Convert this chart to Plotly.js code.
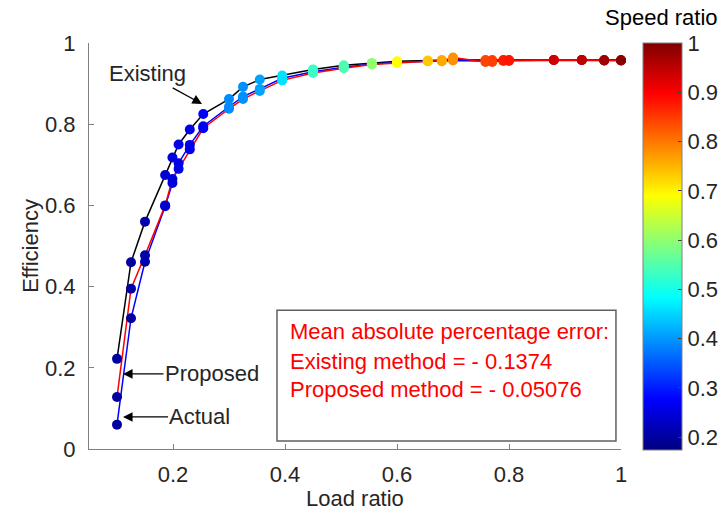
<!DOCTYPE html>
<html>
<head>
<meta charset="utf-8">
<script src="https://cdn.plot.ly/plotly-3.0.1.min.js"></script>
<style>html,body{margin:0;padding:0;background:#fff;}#chart{width:728px;height:517px;}</style>
</head>
<body>
<div id="chart"></div>
<script>
// Load ratio (x) for each measured point
const loadRatio = [0.1, 0.125, 0.15, 0.186, 0.199, 0.21, 0.23, 0.254, 0.3, 0.325, 0.355, 0.395, 0.45, 0.505, 0.555, 0.6, 0.655, 0.68, 0.7, 0.758, 0.77, 0.79, 0.8, 0.88, 0.93, 0.97, 1.0];
// Speed ratio (colour) for each point
const speedRatio = [0.2, 0.2, 0.21, 0.24, 0.25, 0.255, 0.26, 0.27, 0.39, 0.395, 0.41, 0.46, 0.53, 0.545, 0.6, 0.69, 0.735, 0.76, 0.78, 0.84, 0.845, 0.875, 0.88, 0.935, 0.95, 0.975, 0.99];
// Efficiency values
const effExisting = [0.222, 0.46, 0.56, 0.675, 0.718, 0.75, 0.787, 0.825, 0.862, 0.892, 0.91, 0.92, 0.935, 0.945, 0.951, 0.955, 0.957, 0.958, 0.959, 0.958, 0.958, 0.958, 0.958, 0.958, 0.958, 0.958, 0.958];
const effProposed = [0.128, 0.395, 0.477, 0.6, 0.665, 0.69, 0.738, 0.79, 0.838, 0.862, 0.882, 0.908, 0.926, 0.938, 0.947, 0.951, 0.955, 0.956, 0.964, 0.953, 0.953, 0.956, 0.956, 0.958, 0.958, 0.957, 0.957];
const effActual = [0.06, 0.322, 0.461, 0.598, 0.655, 0.704, 0.749, 0.795, 0.843, 0.868, 0.887, 0.913, 0.929, 0.94, 0.948, 0.952, 0.955, 0.955, 0.957, 0.955, 0.955, 0.957, 0.957, 0.958, 0.958, 0.957, 0.957];

const xTicks = [0.2, 0.4, 0.6, 0.8, 1];
const xTickText = ["0.2", "0.4", "0.6", "0.8", "1"];
const yTicks = [0, 0.2, 0.4, 0.6, 0.8, 1];
const yTickText = ["0", "0.2", "0.4", "0.6", "0.8", "1"];
const cTicks = [0.2, 0.3, 0.4, 0.5, 0.6, 0.7, 0.8, 0.9, 1];
const cTickText = ["0.2", "0.3", "0.4", "0.5", "0.6", "0.7", "0.8", "0.9", "1"];

const jet = [
  [0, 'rgb(0,0,128)'], [0.125, 'rgb(0,0,255)'], [0.375, 'rgb(0,255,255)'],
  [0.625, 'rgb(255,255,0)'], [0.875, 'rgb(255,0,0)'], [1, 'rgb(128,0,0)']
];
const FONT = '"Liberation Sans", Arial, Helvetica, sans-serif';
const TXT = '#262626';
const FS = 22;
const cmin = 0.174, cmax = 1;

function lineTrace(y, color) {
  return {x: loadRatio, y: y, mode: 'lines', type: 'scatter', cliponaxis: false,
    line: {color: color, width: 1.5}, hoverinfo: 'skip', showlegend: false};
}
function markerTrace(y, scale) {
  return {x: loadRatio, y: y, mode: 'markers', type: 'scatter', showlegend: false, cliponaxis: false,
    marker: {size: 10, color: speedRatio, colorscale: jet, cmin: cmin, cmax: cmax,
      line: {width: 0}, showscale: scale,
      colorbar: scale ? {
        x: 1.0414, xanchor: 'left', xpad: 0, ypad: 0,
        y: 0.4988, yanchor: 'middle', len: 407, lenmode: 'pixels',
        thickness: 39, thicknessmode: 'pixels',
        outlinewidth: 1, outlinecolor: '#808080',
        tickvals: cTicks, ticktext: cTickText, ticks: 'inside', ticklen: 4,
        tickcolor: '#404040',
        tickfont: {family: FONT, size: FS, color: TXT}
      } : undefined}};
}

const data = [
  lineTrace(effExisting, '#000000'),
  lineTrace(effActual, '#0000ff'),
  lineTrace(effProposed, '#ff0000'),
  markerTrace(effExisting, true),
  markerTrace(effActual, false),
  markerTrace(effProposed, false)
];

const boxLines = ["Mean absolute percentage error:", "Existing method = - 0.1374", "Proposed method = - 0.05076"];
const boxY = [0.289, 0.215, 0.147];

const annotations = [
  {x: 0.2518, y: 0.85, xref: 'x', yref: 'y', text: 'Existing', showarrow: true,
   ax: -55, ay: -30, arrowhead: 2, arrowsize: 1.6, arrowwidth: 1.2, arrowcolor: '#000',
   font: {family: FONT, size: FS, color: TXT}},
  {x: 0.1107, y: 0.185, xref: 'x', yref: 'y', text: 'Proposed', showarrow: true,
   ax: 89, ay: 0, arrowhead: 2, arrowsize: 1.6, arrowwidth: 1.2, arrowcolor: '#000',
   font: {family: FONT, size: FS, color: TXT}},
  {x: 0.1107, y: 0.079, xref: 'x', yref: 'y', text: 'Actual', showarrow: true,
   ax: 77, ay: 0, arrowhead: 2, arrowsize: 1.6, arrowwidth: 1.2, arrowcolor: '#000',
   font: {family: FONT, size: FS, color: TXT}},
  {x: 1.077, y: 1.062, xref: 'paper', yref: 'paper', text: 'Speed ratio', showarrow: false,
   xanchor: 'center', yanchor: 'middle', font: {family: FONT, size: FS, color: '#000'}},
  {x: 0.5, y: -0.122, xref: 'paper', yref: 'paper', text: 'Load ratio', showarrow: false,
   xanchor: 'center', yanchor: 'middle', font: {family: FONT, size: FS, color: TXT}}
];
boxLines.forEach((t, i) => annotations.push({
  x: 0.4054, y: boxY[i], xref: 'x', yref: 'y', text: t, showarrow: false,
  xanchor: 'left', yanchor: 'middle', font: {family: FONT, size: FS, color: '#ff0000'}
}));

const layout = {
  width: 728, height: 517,
  margin: {l: 89, r: 107, t: 43, b: 68, autoexpand: false},
  paper_bgcolor: '#fff', plot_bgcolor: '#fff',
  font: {family: FONT, size: FS, color: TXT},
  xaxis: {range: [0.05, 1], tickvals: xTicks, ticktext: xTickText, automargin: false,
    showgrid: false, zeroline: false, showline: true, linecolor: '#808080', linewidth: 1,
    ticks: 'inside', ticklen: 5, tickcolor: '#808080', ticklabelstandoff: 6,
    tickfont: {family: FONT, size: FS, color: TXT}},
  yaxis: {range: [0, 1], tickvals: yTicks, ticktext: yTickText, automargin: false,
    showgrid: false, zeroline: false, showline: true, linecolor: '#808080', linewidth: 1,
    ticks: 'inside', ticklen: 5, tickcolor: '#808080', ticklabelstandoff: 8,
    tickfont: {family: FONT, size: FS, color: TXT},
    title: {text: 'Efficiency', font: {family: FONT, size: FS, color: TXT}, standoff: 0}},
  shapes: [{type: 'rect', xref: 'x', yref: 'y', x0: 0.3857, x1: 0.991, y0: 0.0197, y1: 0.342,
    line: {color: '#606060', width: 1.5}, fillcolor: 'rgba(255,255,255,1)', layer: 'below'}],
  annotations: annotations
};

Plotly.newPlot('chart', data, layout, {displayModeBar: false, staticPlot: true});
</script>
</body>
</html>
